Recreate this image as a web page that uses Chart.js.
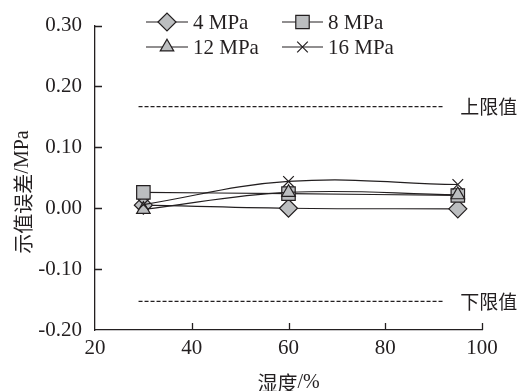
<!DOCTYPE html>
<html>
<head>
<meta charset="utf-8">
<script src="https://cdn.jsdelivr.net/npm/chart.js@4/dist/chart.umd.min.js"></script>
<style>
  html, body { margin: 0; padding: 0; background: #fff; }
  #wrap { width: 521px; height: 391px; }
</style>
</head>
<body>
<div id="wrap"><canvas id="chart" width="521" height="391"></canvas></div>
<script>
(() => {
  'use strict';

  // humidity (%) on x, indication error (MPa) on y
  const humidity = [30, 60, 95];
  const err4 = [0.005, 0.000, -0.001];
  const err8 = [0.026, 0.024, 0.021];
  const err12 = [-0.002, 0.026, 0.022];
  const err16 = [0.006, 0.044, 0.039];

  const limitX = [29, 92];
  const upperLimit = [0.167, 0.167];
  const lowerLimit = [-0.153, -0.153];

  const xTicks = [20, 40, 60, 80, 100];
  const yTicks = [-0.2, -0.1, 0, 0.1, 0.2, 0.3];

  const INK = '#231f20';
  const FILL = '#bcbec0';
  const SERIF = '"Liberation Serif", "DejaVu Serif", serif';
  const CJK = '"Noto Sans CJK SC", sans-serif';

  const pts = (xs, ys) => xs.map((x, i) => ({ x, y: ys[i] }));

  const SERIES = [
    { label: '4 MPa', data: err4, style: 'rectRot', radius: 9, order: 4 },
    { label: '8 MPa', data: err8, style: 'rect', radius: 9.5, order: 3 },
    { label: '12 MPa', data: err12, style: 'triangle', radius: 7.8, order: 2 },
    { label: '16 MPa', data: err16, style: 'crossRot', radius: 7.5, order: 1 },
  ];

  function seriesDataset(s) {
    return {
      label: s.label,
      data: pts(humidity, s.data),
      order: s.order,
      borderColor: INK,
      borderWidth: 1.2,
      tension: 0.4,
      pointStyle: s.style,
      pointRadius: s.radius,
      pointHoverRadius: s.radius,
      pointBackgroundColor: FILL,
      pointBorderColor: INK,
      pointBorderWidth: 1.2,
    };
  }

  function limitDataset(label, ys) {
    return {
      label,
      data: pts(limitX, ys),
      order: 5,
      borderColor: INK,
      borderWidth: 1.2,
      borderDash: [4, 2],
      pointRadius: 0,
      tension: 0,
    };
  }

  // legend layout: [series index, line start x, line end x, y]
  const LEGEND = [
    [0, 146, 188, 22],
    [1, 282, 323, 22],
    [2, 146, 188, 47],
    [3, 282, 323, 47],
  ];

  function marker(ctx, style, r, x, y) {
    ctx.save();
    ctx.fillStyle = FILL;
    ctx.strokeStyle = INK;
    ctx.lineWidth = 1.2;
    ctx.beginPath();
    if (style === 'rectRot') {
      ctx.moveTo(x - r, y); ctx.lineTo(x, y - r); ctx.lineTo(x + r, y); ctx.lineTo(x, y + r);
      ctx.closePath(); ctx.fill(); ctx.stroke();
    } else if (style === 'rect') {
      const s = Math.SQRT1_2 * r;
      ctx.rect(x - s, y - s, 2 * s, 2 * s); ctx.fill(); ctx.stroke();
    } else if (style === 'triangle') {
      const a = Math.PI / 2, t = 2 * Math.PI / 3;
      ctx.moveTo(x - Math.cos(a) * r, y - Math.sin(a) * r);
      ctx.lineTo(x - Math.cos(a + t) * r, y - Math.sin(a + t) * r);
      ctx.lineTo(x - Math.cos(a - t) * r, y - Math.sin(a - t) * r);
      ctx.closePath(); ctx.fill(); ctx.stroke();
    } else {
      const o = Math.SQRT1_2 * r;
      ctx.moveTo(x - o, y - o); ctx.lineTo(x + o, y + o);
      ctx.moveTo(x - o, y + o); ctx.lineTo(x + o, y - o);
      ctx.stroke();
    }
    ctx.restore();
  }

  const decor = {
    id: 'decor',
    afterDraw(chart) {
      const { ctx, chartArea: a } = chart;
      const xs = chart.scales.x, ys = chart.scales.y;
      ctx.save();

      // inward tick marks
      ctx.strokeStyle = INK;
      ctx.lineWidth = 1.3;
      ctx.beginPath();
      xTicks.slice(1).forEach(v => {
        const px = Math.round(xs.getPixelForValue(v)) + 0.5;
        ctx.moveTo(px, a.bottom); ctx.lineTo(px, a.bottom - 7);
      });
      yTicks.slice(1).forEach(v => {
        const py = Math.round(ys.getPixelForValue(v)) + 0.5;
        ctx.moveTo(a.left, py); ctx.lineTo(a.left + 7, py);
      });
      ctx.stroke();

      // limit labels
      ctx.fillStyle = INK;
      ctx.font = '19px ' + CJK;
      ctx.textBaseline = 'middle';
      ctx.textAlign = 'left';
      const lx = xs.getPixelForValue(limitX[1]) + 17;
      ctx.fillText('上限值', lx, ys.getPixelForValue(upperLimit[1]));
      ctx.fillText('下限值', lx, ys.getPixelForValue(lowerLimit[1]));

      // legend
      LEGEND.forEach(([i, x0, x1, y]) => {
        const s = SERIES[i];
        ctx.strokeStyle = INK;
        ctx.lineWidth = 1.2;
        ctx.beginPath(); ctx.moveTo(x0, y); ctx.lineTo(x1, y); ctx.stroke();
        marker(ctx, s.style, s.radius, (x0 + x1) / 2, y);
        ctx.fillStyle = INK;
        ctx.font = '21px ' + SERIF;
        ctx.fillText(s.label, x1 + 5, y + 1);
      });

      // axis titles
      drawMixed(ctx, [['湿度', CJK], ['/%', SERIF]], (a.left + a.right) / 2, 383, 0);
      drawMixed(ctx, [['示值误差', CJK], ['/MPa', SERIF]], 23, 192, -Math.PI / 2);

      ctx.restore();
    },
  };

  function drawMixed(ctx, parts, cx, cy, rot) {
    ctx.save();
    ctx.translate(cx, cy);
    ctx.rotate(rot);
    ctx.fillStyle = INK;
    ctx.textBaseline = 'middle';
    ctx.textAlign = 'left';
    const widths = parts.map(([t, f]) => { ctx.font = '20px ' + f; return ctx.measureText(t).width; });
    let x = -widths.reduce((p, w) => p + w, 0) / 2;
    parts.forEach(([t, f], i) => {
      ctx.font = '20px ' + f;
      ctx.fillText(t, x, 0);
      x += widths[i];
    });
    ctx.restore();
  }

  new Chart(document.getElementById('chart'), {
    type: 'line',
    data: {
      datasets: [
        ...SERIES.map(seriesDataset),
        limitDataset('上限值', upperLimit),
        limitDataset('下限值', lowerLimit),
      ],
    },
    options: {
      responsive: false,
      animation: false,
      layout: { padding: { top: 24, right: 39, left: 0, bottom: 0 } },
      plugins: { legend: { display: false }, tooltip: { enabled: false } },
      scales: {
        x: {
          type: 'linear',
          min: 20, max: 100,
          afterBuildTicks: sc => { sc.ticks = xTicks.map(v => ({ value: v })); },
          afterFit: sc => { sc.height = 61; },
          grid: { display: true, drawOnChartArea: false, drawTicks: false },
          border: { display: true, color: INK, width: 1.3 },
          ticks: { color: INK, padding: 6, maxRotation: 0, font: { family: SERIF, size: 21 } },
        },
        y: {
          type: 'linear',
          min: -0.2, max: 0.3,
          afterBuildTicks: sc => { sc.ticks = yTicks.map(v => ({ value: v })); },
          afterFit: sc => { sc.width = 95; },
          grid: { display: true, drawOnChartArea: false, drawTicks: false },
          border: { display: true, color: INK, width: 1.3 },
          ticks: {
            color: INK, padding: 13, font: { family: SERIF, size: 21 },
            callback: v => v.toFixed(2),
          },
        },
      },
    },
    plugins: [decor],
  });
})();
</script>
</body>
</html>
